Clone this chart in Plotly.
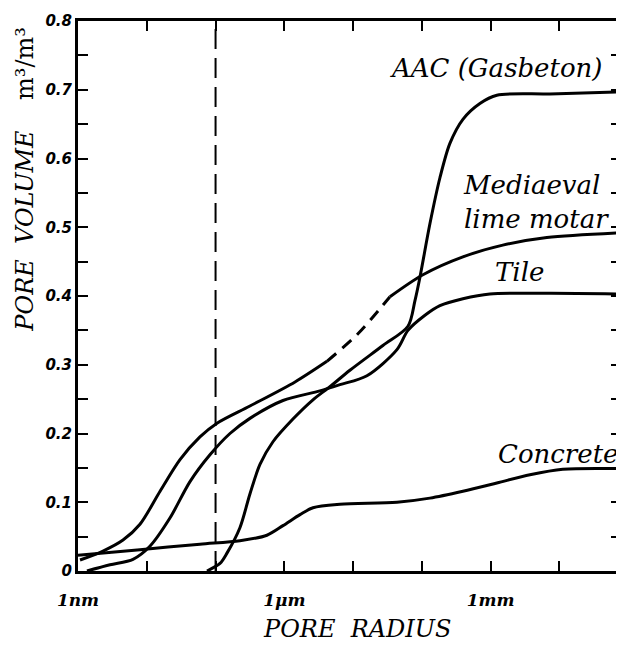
import plotly.graph_objects as go

# Pore radius in nm, pore volume in m3/m3
mortar_r = [1.07, 2.31, 4.51, 7.96, 15.6, 30.4, 59.3, 105, 316, 1430, 4160, 11750, 34300, 103500, 394500, 1.50e6, 6.56e6, 7.55e7]
mortar_v = [0.016, 0.029, 0.045, 0.068, 0.116, 0.162, 0.195, 0.215, 0.240, 0.275, 0.305, 0.345, 0.399, 0.431, 0.457, 0.474, 0.485, 0.492]
mortar_dash_start, mortar_dash_end = 10, 12  # indices bounding the dashed (uncertain) part

tile_r = [1.35, 2.92, 6.3, 11.1, 21.7, 42.5, 82.9, 162, 316, 955, 3290, 6430, 15880, 43350, 62660, 110700, 182800, 394500, 973000, 7.25e6, 7.55e7]
tile_v = [0.0, 0.009, 0.017, 0.036, 0.077, 0.130, 0.169, 0.200, 0.222, 0.248, 0.262, 0.271, 0.284, 0.322, 0.350, 0.372, 0.386, 0.396, 0.403, 0.404, 0.403]

aac_r = [75, 116, 146.5, 226, 316, 442, 683, 1334, 2606, 4600, 8980, 27100, 62660, 79100, 93500, 130700, 182800, 255300, 394500, 696700, 1.23e6, 7.25e6, 7.55e7]
aac_v = [0.0, 0.011, 0.026, 0.063, 0.112, 0.155, 0.188, 0.221, 0.249, 0.268, 0.292, 0.328, 0.356, 0.393, 0.427, 0.505, 0.572, 0.622, 0.657, 0.680, 0.692, 0.694, 0.697]

concrete_r = [1.0, 7.96, 59.3, 226, 558, 955, 1690, 2610, 6430, 43350, 130700, 394500, 1.23e6, 3.72e6, 1.12e7, 7.55e7]
concrete_v = [0.023, 0.031, 0.039, 0.044, 0.052, 0.066, 0.082, 0.092, 0.097, 0.100, 0.106, 0.116, 0.128, 0.140, 0.148, 0.149]

marker_radius = 100  # nm, dashed vertical reference line

x_tickvals = [1, 10, 100, 1e3, 1e4, 1e5, 1e6, 1e7]
x_ticktext = ["1nm", "", "", "1\u03bcm", "", "", "1mm", ""]
y_tickvals = [0, 0.05, 0.1, 0.15, 0.2, 0.25, 0.3, 0.35, 0.4, 0.45, 0.5, 0.55, 0.6, 0.65, 0.7, 0.75, 0.8]
y_ticktext = ["0", "", "0.1", "", "0.2", "", "0.3", "", "0.4", "", "0.5", "", "0.6", "", "0.7", "", "0.8"]

fig = go.Figure()

def add(x, y, dash="solid", width=3):
    fig.add_trace(go.Scatter(x=x, y=y, mode="lines", showlegend=False, hoverinfo="skip",
                             line=dict(color="black", width=width, dash=dash, shape="spline", smoothing=0.85)))

add(concrete_r, concrete_v)
add(tile_r, tile_v)
add(aac_r, aac_v)
add(mortar_r[:mortar_dash_start + 1], mortar_v[:mortar_dash_start + 1])
add(mortar_r[mortar_dash_start:mortar_dash_end + 1], mortar_v[mortar_dash_start:mortar_dash_end + 1], dash="12px,8px")
add(mortar_r[mortar_dash_end:], mortar_v[mortar_dash_end:])
fig.add_trace(go.Scatter(x=[marker_radius, marker_radius], y=[0, 0.8], mode="lines", showlegend=False,
                         hoverinfo="skip", line=dict(color="black", width=2, dash="20px,9px")))
# invisible trace to activate the right-hand tick axis
fig.add_trace(go.Scatter(x=[marker_radius], y=[0], yaxis="y2", mode="markers", showlegend=False,
                         hoverinfo="skip", marker=dict(opacity=0)))

# plot area in window pixels: x 78..620, y 13..571
lab_font = dict(family="DejaVu Serif", size=26, color="black", style="italic")

def label(text, px, py, anchor="center", font=lab_font, angle=0):
    fig.add_annotation(text=text, xref="paper", yref="paper", x=(px - 78) / 542, y=(571 - py) / 558,
                       xanchor=anchor, yanchor="middle", showarrow=False, font=font, align="left",
                       textangle=angle)

label("AAC (Gasbeton)", 496, 61)
label("Mediaeval<br>lime motar", 461, 197, anchor="left")
label("Tile", 520, 268)
label("Concrete", 558, 452)

label("PORE  RADIUS", 357, 630, font=dict(family="DejaVu Serif", size=24, color="black", style="italic"))
label("<i>PORE  VOLUME</i>    m\u00b3/m\u00b3", 25, 174, angle=-90,
      font=dict(family="DejaVu Serif", size=24, color="black"))

fig.update_layout(
    width=616, height=638,
    margin=dict(l=70, r=4, t=5, b=75),
    paper_bgcolor="white", plot_bgcolor="white",
    xaxis=dict(type="log", range=[0, 7.88], tickvals=x_tickvals, ticktext=x_ticktext,
               ticks="inside", ticklen=10, tickwidth=2, tickcolor="black",
               showline=True, linewidth=3, linecolor="black", mirror="ticks",
               showgrid=False, zeroline=False, ticklabelstandoff=12, ticklabeloverflow="allow",
               tickfont=dict(family="DejaVu Serif", size=17, color="black", weight="bold", style="italic")),
    yaxis=dict(range=[0, 0.8], tickvals=y_tickvals, ticktext=y_ticktext,
               ticks="inside", ticklen=10, tickwidth=2, tickcolor="black",
               showline=True, linewidth=3, linecolor="black", mirror=False,
               showgrid=False, zeroline=False, ticklabeloverflow="allow",
               tickfont=dict(family="DejaVu Sans", size=15, color="black", weight="bold", style="italic")),
    yaxis2=dict(range=[0, 0.8], tickvals=y_tickvals, overlaying="y", side="right",
                ticks="inside", ticklen=9, tickwidth=2, tickcolor="black",
                showline=False, showgrid=False, zeroline=False, showticklabels=False),
)

fig.write_html("out.html")
